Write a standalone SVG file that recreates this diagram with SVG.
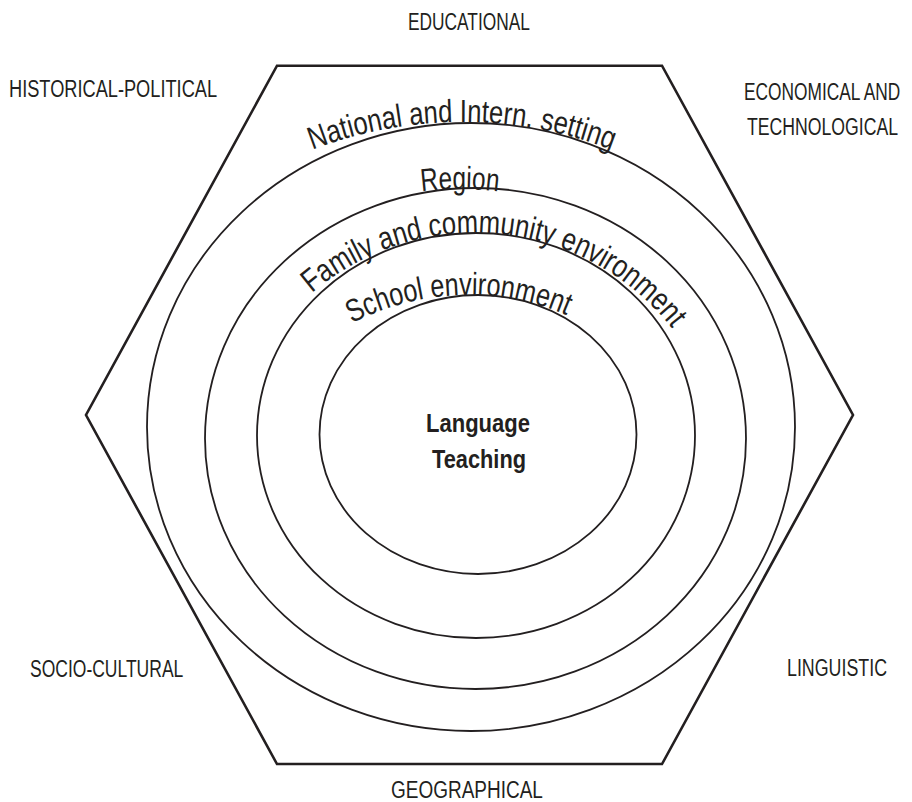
<svg xmlns="http://www.w3.org/2000/svg" width="912" height="802" viewBox="0 0 912 802">
<style>
.hex{fill:none;stroke:#231f20;stroke-width:2.6;stroke-linejoin:miter}
.ell{fill:none;stroke:#231f20;stroke-width:1.8}
.lbl{font-family:"Liberation Sans",Arial,sans-serif;font-size:23.5px;fill:#231f20}
.arc{font-family:"Liberation Sans",Arial,sans-serif;font-size:32px;fill:#231f20}
.core{font-family:"Liberation Sans",Arial,sans-serif;font-size:26px;font-weight:bold;fill:#231f20}
</style>
<defs>
<path id="pNat" d="M142,272.2 A416,416 0 0 1 782,272.2"/>
<path id="pReg" d="M260,265.4 A300,300 0 0 1 660,265.4"/>
<path id="pFam" d="M257.6,358.5 A251,251 0 0 1 710.9,398.2"/>
<path id="pSch" d="M218,545 A250,250 0 0 1 718,545"/>
</defs>
<g id="hexagon">
<polygon class="hex" points="277,65.7 662,65.7 853,415 662,764 277,764 86,415"/>
</g>
<g id="national">
<ellipse class="ell" cx="471" cy="427" rx="324" ry="304"/>
<text class="arc"><textPath href="#pNat" startOffset="50%" text-anchor="middle" textLength="306" lengthAdjust="spacingAndGlyphs">National and Intern. setting</textPath></text>
</g>
<g id="region">
<ellipse class="ell" cx="475.5" cy="438.5" rx="270.5" ry="250.5"/>
<text class="arc"><textPath href="#pReg" startOffset="50%" text-anchor="middle" textLength="77" lengthAdjust="spacingAndGlyphs">Region</textPath></text>
</g>
<g id="family">
<ellipse class="ell" cx="476" cy="435.5" rx="219" ry="202.5"/>
<text class="arc"><textPath href="#pFam" startOffset="85.4" textLength="404" lengthAdjust="spacingAndGlyphs">Family and community environment</textPath></text>
</g>
<g id="school">
<ellipse class="ell" cx="478" cy="434.5" rx="158.5" ry="139.5"/>
<text class="arc"><textPath href="#pSch" startOffset="272" textLength="222" lengthAdjust="spacingAndGlyphs">School environment</textPath></text>
</g>
<g id="core">
<text class="core" x="478" y="432" text-anchor="middle" textLength="104" lengthAdjust="spacingAndGlyphs">Language</text>
<text class="core" x="479" y="468" text-anchor="middle" textLength="94" lengthAdjust="spacingAndGlyphs">Teaching</text>
</g>
<g id="labels">
<text id="educational" class="lbl" transform="translate(408,30) scale(0.73,1)" textLength="167" lengthAdjust="spacingAndGlyphs">EDUCATIONAL</text>
<text id="historical" class="lbl" transform="translate(9,97) scale(0.73,1)" textLength="285" lengthAdjust="spacingAndGlyphs">HISTORICAL-POLITICAL</text>
<text id="economical1" class="lbl" transform="translate(744,100) scale(0.73,1)" textLength="214" lengthAdjust="spacingAndGlyphs">ECONOMICAL AND</text>
<text id="economical2" class="lbl" transform="translate(747,135) scale(0.73,1)" textLength="207" lengthAdjust="spacingAndGlyphs">TECHNOLOGICAL</text>
<text id="sociocultural" class="lbl" transform="translate(30,677) scale(0.73,1)" textLength="210" lengthAdjust="spacingAndGlyphs">SOCIO-CULTURAL</text>
<text id="linguistic" class="lbl" transform="translate(787,676) scale(0.73,1)" textLength="137" lengthAdjust="spacingAndGlyphs">LINGUISTIC</text>
<text id="geographical" class="lbl" transform="translate(391,798) scale(0.73,1)" textLength="208" lengthAdjust="spacingAndGlyphs">GEOGRAPHICAL</text>
</g>
</svg>
